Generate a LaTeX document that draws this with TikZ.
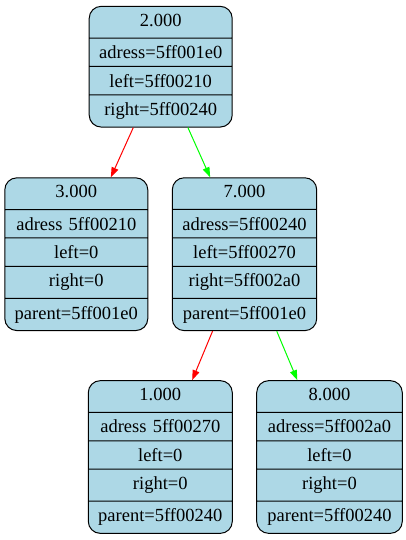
\documentclass[tikz,border=0pt]{standalone}
\usepackage{fontspec}
\setmainfont{Liberation Serif}
\usetikzlibrary{shapes.multipart,arrows.meta}
\definecolor{lightblue}{RGB}{173,216,230}
\tikzset{
  rec/.style={draw, fill=lightblue, rounded corners=12pt, line width=1pt,
    rectangle split, rectangle split parts=#1, align=center,
    text width=135pt, inner xsep=4pt, inner ysep=7.1pt,
    text height=12.5pt, text depth=4pt,
    font=\fontsize{18.5}{20}\selectfont},
  link/.style={line width=1pt, -{Triangle[length=10pt,width=7pt]}}
}
\begin{document}
\begin{tikzpicture}[x=1pt,y=-1pt]
\useasboundingbox (0,0) rectangle (406,540);
\node[rec=4] (2) at (160.7,66.7) {2.000 \nodepart{two} adress=5ff001e0 \nodepart{three} left=5ff00210 \nodepart{four} right=5ff00240};
\node[rec=5] (3) at (76.3,254.2) {3.000 \nodepart{two} adress 5ff00210 \nodepart{three} left=0 \nodepart{four} right=0 \nodepart{five} parent=5ff001e0};
\node[rec=5, text width=136.4pt] (7) at (244.5,254.2) {7.000 \nodepart{two} adress=5ff00240 \nodepart{three} left=5ff00270 \nodepart{four} right=5ff002a0 \nodepart{five} parent=5ff001e0};
\node[rec=5, text width=136pt] (1) at (160.3,457) {1.000 \nodepart{two} adress 5ff00270 \nodepart{three} left=0 \nodepart{four} right=0 \nodepart{five} parent=5ff00240};
\node[rec=5, text width=137.6pt] (8) at (329.5,457) {8.000 \nodepart{two} adress=5ff002a0 \nodepart{three} left=0 \nodepart{four} right=0 \nodepart{five} parent=5ff00240};
\path[draw,link,red] (2) -- (3);
\path[draw,link,green] (2) -- (7);
\path[draw,link,red] (7) -- (1);
\path[draw,link,green] (7) -- (8);
\end{tikzpicture}
\end{document}
